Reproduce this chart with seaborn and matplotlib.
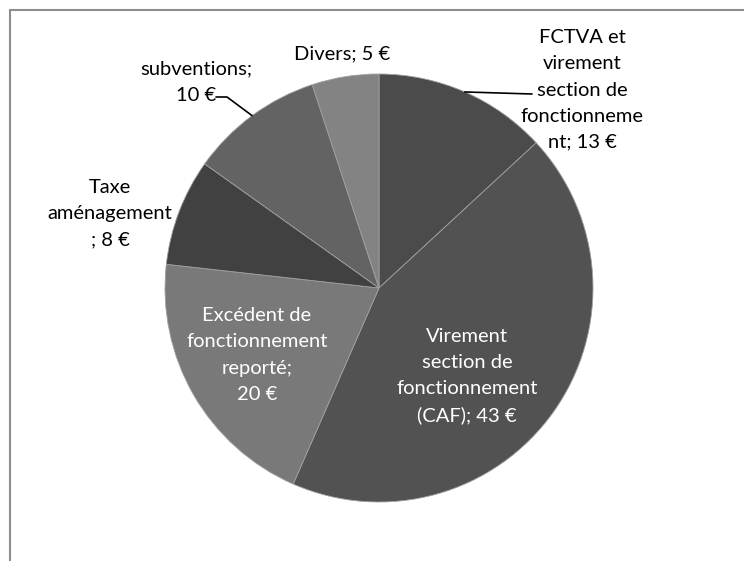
import numpy as np
import matplotlib
matplotlib.use("Agg")
import matplotlib.pyplot as plt
import seaborn as sns
from matplotlib.lines import Line2D

sns.set_theme(style="white")
plt.rcParams['font.family'] = ['Lato', 'DejaVu Sans']

# Données (en €)
labels = [
    "FCTVA et\nvirement\nsection de\nfonctionneme\nnt; 13 €",
    "Virement\nsection de\nfonctionnement\n(CAF); 43 €",
    "Excédent de\nfonctionnement\nreporté;\n20 €",
    "Taxe\naménagement\n; 8 €",
    "subventions;\n10 €",
    "Divers; 5 €",
]
values = [13, 43, 20, 8, 10, 5]
colors = ["#4b4b4b", "#525252", "#797979", "#414141", "#636363", "#838383"]
text_colors = ["black", "white", "white", "black", "black", "black"]

# position des étiquettes (pixels dans l'image)
label_px = [(582, 90), (467, 376), (257, 355), (110, 214), (196, 82), (342, 54)]

W, H = 744, 561
cx, cy, r = 379, 288, 214

fig = plt.figure(figsize=(W / 100, H / 100), dpi=100)
ax = fig.add_axes([(cx - r) / W, (H - cy - r) / H, 2 * r / W, 2 * r / H])

wedges, _ = ax.pie(values, colors=colors, startangle=90, counterclock=False,
                   wedgeprops=dict(edgecolor="#a0a0a0", linewidth=0.6))
ax.set_xlim(-1, 1)
ax.set_ylim(-1, 1)
ax.set_aspect("auto")
ax.axis("off")


def to_data(px, py):
    return (px - cx) / r, (cy - py) / r


for lab, (px, py), tc in zip(labels, label_px, text_colors):
    x, y = to_data(px, py)
    ax.text(x, y, lab, ha="center", va="center", color=tc, fontsize=14.5,
            linespacing=1.65, clip_on=False)

# lignes de rappel (FCTVA et subventions)
def edge_point(w):
    a = np.deg2rad((w.theta1 + w.theta2) / 2)
    return np.cos(a), np.sin(a)

ex, ey = edge_point(wedges[0])
x2, y2 = to_data(532, 94)
ax.add_line(Line2D([ex, x2], [ey, y2], color="black", lw=1.2, clip_on=False))

ex, ey = edge_point(wedges[4])
xa, ya = to_data(227, 97)
xb, yb = to_data(216, 97)
ax.add_line(Line2D([ex, xa, xb], [ey, ya, yb], color="black", lw=1.2, clip_on=False))

# cadre du graphique (coupé en bas et à droite)
fig.add_artist(Line2D([10 / W, 1], [1 - 10 / H, 1 - 10 / H], transform=fig.transFigure,
                      color="#8e8e8e", lw=1.5))
fig.add_artist(Line2D([10 / W, 10 / W], [1 - 10 / H, 0], transform=fig.transFigure,
                      color="#8e8e8e", lw=1.5))

fig.savefig("out.png", dpi=100)
